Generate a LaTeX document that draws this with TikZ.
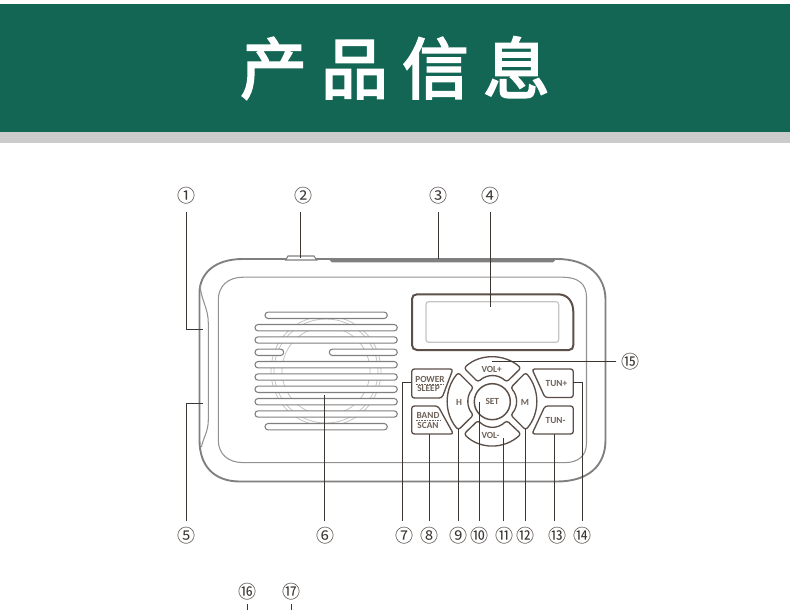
\documentclass[tikz,border=0pt]{standalone}
\usepackage{fontspec}
\usepackage{xcolor}
\usepackage{tikz}
\setmainfont{Carlito}
\newfontfamily\cjkhead{Noto Sans CJK SC}[FakeBold=3]
\newfontfamily\cjk{Noto Sans CJK SC}
\usetikzlibrary{calc}
\definecolor{banner}{HTML}{126653}
\definecolor{strip}{HTML}{CBCBCB}
\definecolor{body}{HTML}{7F7F7F}
\definecolor{pale}{HTML}{C4C4C4}
\definecolor{keyline}{HTML}{5C4F48}
\definecolor{keyink}{HTML}{6E6259}
\definecolor{lead}{HTML}{3C3633}
\tikzset{
  casing/.style={draw=body, line width=1.4pt},
  inner/.style={draw=body!85, line width=0.8pt},
  slot/.style={draw=body, line width=0.8pt, rounded corners=2.35pt, fill=white},
  ring/.style={draw=pale, line width=0.6pt},
  keyshape/.style={draw=keyline, line width=1pt, line join=round, rounded corners=2pt, fill=white},
  keytext/.style={text=keyink, font=\bfseries\fontsize{7}{7}\selectfont, inner sep=0pt, align=center},
  leader/.style={draw=lead, line width=0.75pt},
  num/.style={inner sep=0pt, text=lead, font=\cjk\fontsize{13.5}{13.5}\selectfont},
  numtop/.style={num, minimum size=24pt},
  numlow/.style={num, minimum size=21pt},
  numfoot/.style={num, minimum size=18pt}
}
\begin{document}
\begin{tikzpicture}[x=0.75pt,y=-0.75pt]
  \useasboundingbox (0,0) rectangle (790,610);
  % banner
  \fill[banner] (0,4) rectangle (790,132);
  \fill[strip] (0,132) rectangle (790,143);
  \node[text=white, inner sep=0pt, font=\cjkhead\fontsize{50}{50}\selectfont] (title) at (395,68) {产\hspace{10.75pt}品\hspace{10.75pt}信\hspace{10.75pt}息};

  % casing
  \draw[casing] (243,259) -- (557,259) .. controls (588,259) and (605.5,276) .. (605.5,300)
    -- (605.5,440) .. controls (605.5,466) and (588,481.5) .. (557,481.5)
    -- (240,481.5) .. controls (214,481.5) and (199.5,466) .. (199.5,440)
    -- (199.5,293) .. controls (199.5,274) and (214,259) .. (243,259) -- cycle;
  \draw[inner] (200,285) .. controls (201,300) and (208.3,308) .. (208.3,323) -- (208.3,420)
    .. controls (208.3,432) and (203,438) .. (201.5,447);
  \draw[inner] (243,277.2) -- (563,277.2) .. controls (578,277.2) and (586.5,284) .. (586.5,297)
    -- (586.5,443) .. controls (586.5,456) and (578,462.6) .. (565,462.6)
    -- (243,462.6) .. controls (228,462.6) and (218.3,454) .. (218.3,440)
    -- (218.3,300) .. controls (218.3,286) and (228,277.2) .. (243,277.2) -- cycle;
  \draw[casing, fill=white, line width=0.8pt] (285.7,260) -- (288,256) -- (314,256) -- (316.7,260) -- cycle;
  \fill[body] (328,258.3) -- (557,258.3) -- (553,262.3) -- (332,262.3) -- cycle;

  % speaker
  \foreach \r in {55,52,44}
    \draw[ring] (326,371) circle (\r);
  \foreach \ya/\xa/\xb in {315.3/265/387.3, 327.7/255/397.3, 340/255/397.3, 364.7/255/397.3, 377/255/397.3, 389.3/255/397.3, 401.7/255/397.3, 414/255/397.3, 426.7/265/387.3}
    \draw[slot] (\xa,\ya-3.2) rectangle (\xb,\ya+3.2);
  \draw[slot] (255,349.1) rectangle (283.7,355.5);
  \draw[slot] (329.3,349.1) rectangle (397.3,355.5);

  % display
  \draw[draw=keyline, line width=1.5pt] (417,294.3) -- (558,294.3) .. controls (568,294.3) and (573.3,302) .. (573.3,312)
    -- (573.3,345) .. controls (573.3,348) and (572,350) .. (569,350) -- (417,350)
    .. controls (414,350) and (412,348) .. (412,345) -- (412,299) .. controls (412,296) and (414,294.3) .. (417,294.3) -- cycle;
  \draw[draw=pale, line width=0.9pt, rounded corners=2pt] (426,301.7) rectangle (558.7,342.3);

  % keys
  \draw[keyshape] (411.7,369) -- (453,369) -- (442,398) -- (411.7,398) -- cycle;
  \draw[keyshape] (411.7,406) -- (438,406) -- (453.5,434) -- (411.7,434) -- cycle;
  \node[keytext] (power) at (430,379) {POWER};
  \node[keytext] (sleep) at (428.5,388.7) {SLEEP};
  \node[keytext] (band) at (428,415.7) {BAND};
  \node[keytext] (scan) at (428,425) {SCAN};
  \draw[keyink, line width=0.4pt, dash pattern=on 1.2pt off 0.8pt] (416,384) -- (444,384);
  \draw[keyink, line width=0.4pt, dash pattern=on 1.2pt off 0.8pt] (416,420.3) -- (441,420.3);

  \draw[keyshape] (464,368) .. controls (480,353.5) and (504,353.5) .. (521,368) -- (506.7,382) .. controls (498,374) and (487,374) .. (478,382) -- cycle;
  \draw[keyshape] (464,434) .. controls (480,449.5) and (504,449.5) .. (521,434) -- (506.7,420.5) .. controls (498,429) and (487,429) .. (478,420.5) -- cycle;
  \draw[keyshape] (458.3,372.5) .. controls (444,390) and (444,413) .. (458.3,430) -- (473.5,415) .. controls (466.5,407) and (466.5,396) .. (473.5,387.7) -- cycle;
  \draw[keyshape] (525.7,372.5) .. controls (540,390) and (540,413) .. (525.7,430) -- (510.7,415) .. controls (518,407) and (518,396) .. (510.7,387.7) -- cycle;
  \node[circle, draw=keyline, line width=1.1pt, fill=white, minimum size=27pt, inner sep=0pt] (setkey) at (492.3,401.7) {};
  \node[keytext] (set) at (492.3,401.7) {SET};
  \node[keytext] (volup) at (491.7,369.7) {VOL+};
  \node[keytext] (voldn) at (490.5,435) {VOL-};
  \node[keytext] (hkey) at (459,402) {H};
  \node[keytext] (mkey) at (525,402) {M};

  \draw[keyshape] (532,369) -- (573.3,369) -- (573.3,397.5) -- (545,397.5) -- cycle;
  \draw[keyshape] (532,434) -- (573.3,434) -- (573.3,406) -- (545,406) -- cycle;
  \node[keytext] (tunup) at (556.5,383.5) {TUN+};
  \node[keytext] (tundn) at (555.5,420.5) {TUN-};

  % numbers
  \node[numtop] (n1) at (186.7,196) {①};
  \node[numtop] (n2) at (303.3,196) {②};
  \node[numtop] (n3) at (438.7,196) {③};
  \node[numtop] (n4) at (490.7,196) {④};
  \node[numlow] (n5) at (186,535.3) {⑤};
  \node[numlow] (n6) at (325.7,535.3) {⑥};
  \node[numlow] (n7) at (404.7,535.3) {⑦};
  \node[numlow] (n8) at (429.3,535.3) {⑧};
  \node[numlow] (n9) at (458,535.3) {⑨};
  \node[numlow] (n10) at (479.3,535.3) {⑩};
  \node[numlow] (n11) at (504,535.3) {⑪};
  \node[numlow] (n12) at (525.3,535.3) {⑫};
  \node[numlow] (n13) at (557.3,535.3) {⑬};
  \node[numlow] (n14) at (582.3,535.3) {⑭};
  \node[numlow] (n15) at (630.7,361.3) {⑮};
  \node[numfoot] (n16) at (247.3,591.3) {⑯};
  \node[numfoot] (n17) at (291.3,591.3) {⑰};

  % leaders
  \coordinate (e1) at (186.7,329.3);
  \coordinate (f1) at (202.7,329.3);
  \coordinate (e5) at (186.7,403.3);
  \coordinate (f5) at (202.7,403.3);
  \coordinate (e2) at (300.7,258);
  \coordinate (e3) at (438.7,259);
  \coordinate (e4) at (490.7,307.3);
  \coordinate (e6) at (324,395);
  \coordinate (e7) at (402,382.7);
  \coordinate (f7) at (411,382.7);
  \coordinate (e8) at (429,434);
  \coordinate (e9) at (458.7,429);
  \coordinate (e10) at (479.7,401.7);
  \coordinate (e11) at (503.7,438);
  \coordinate (e12) at (525,429);
  \coordinate (e13) at (554.5,434);
  \coordinate (e14) at (582.3,382.7);
  \coordinate (f14) at (573.3,382.7);
  \coordinate (e15) at (492,361.3);
  \coordinate (e16) at (247.3,610);
  \coordinate (e17) at (291.3,610);
  \draw[leader] (n1) -- (e1) -- (f1);
  \draw[leader] (n5.north -| e5) -- (e5) -- (f5);
  \draw[leader] (n2.south -| e2) -- (e2);
  \draw[leader] (n3) -- (e3);
  \draw[leader] (n4) -- (e4);
  \draw[leader] (n6.north -| e6) -- (e6);
  \draw[leader] (n7.north -| e7) -- (e7) -- (f7);
  \draw[leader] (n8.north -| e8) -- (e8);
  \draw[leader] (n9.north -| e9) -- (e9);
  \draw[leader] (n10.north -| e10) -- (e10);
  \draw[leader] (n11.north -| e11) -- (e11);
  \draw[leader] (n12.north -| e12) -- (e12);
  \draw[leader] (n13.north -| e13) -- (e13);
  \draw[leader] (n14.north -| e14) -- (e14) -- (f14);
  \draw[leader] (n15) -- (e15);
  \draw[leader] (n16) -- (e16);
  \draw[leader] (n17) -- (e17);
\end{tikzpicture}
\end{document}
